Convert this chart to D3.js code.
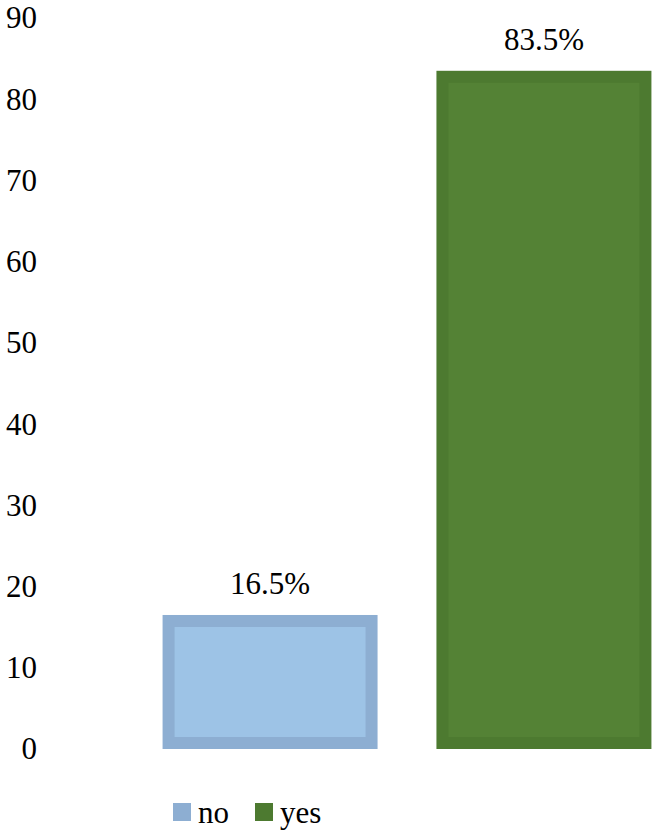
<!DOCTYPE html>
<html>
<head>
<meta charset="utf-8">
<script src="https://cdn.jsdelivr.net/npm/d3@7"></script>
<style>
  html, body { margin: 0; padding: 0; background: #fff; }
  svg { display: block; }
</style>
</head>
<body>
<svg id="chart" width="657" height="835"></svg>
<script>
const categories = ["no", "yes"];
const values = [16.5, 83.5];
const valueLabels = ["16.5%", "83.5%"];
const tickValues = [0, 10, 20, 30, 40, 50, 60, 70, 80, 90];
const fillColors = ["#9dc3e6", "#548235"];
const strokeColors = ["#8daed2", "#4d7a30"];

const FONT = "Liberation Serif, Times New Roman, Tinos, Nimbus Roman, DejaVu Serif, serif";

const svg = d3.select("#chart");

const y = d3.scaleLinear().domain([0, 90]).range([749, 18]);
const x = d3.scaleBand().domain(categories).range([133, 681]).paddingInner(0.215).paddingOuter(0.108);

const yAxis = d3.axisLeft(y).tickValues(tickValues).tickSize(0).tickPadding(0).tickFormat(d3.format("d"));
const gy = svg.append("g").attr("transform", "translate(37,0)").call(yAxis);
gy.attr("font-family", FONT).attr("font-size", 31);
gy.select(".domain").remove();
gy.selectAll("text").attr("fill", "#000");

const sw = 12;
svg.append("g").selectAll("rect")
  .data(values)
  .join("rect")
  .attr("x", (d, i) => x(categories[i]) + sw / 2)
  .attr("y", d => y(d) + sw / 2)
  .attr("width", x.bandwidth() - sw)
  .attr("height", d => y(0) - y(d) - sw)
  .attr("fill", (d, i) => fillColors[i])
  .attr("stroke", (d, i) => strokeColors[i])
  .attr("stroke-width", sw);

svg.append("g").attr("font-family", FONT).attr("font-size", 31)
  .selectAll("text")
  .data(values)
  .join("text")
  .attr("x", (d, i) => x(categories[i]) + x.bandwidth() / 2)
  .attr("y", d => y(d) - 21)
  .attr("text-anchor", "middle")
  .text((d, i) => valueLabels[i]);

const legend = svg.append("g").attr("font-family", FONT).attr("font-size", 31);
const legendX = [173, 255];
categories.forEach((c, i) => {
  legend.append("rect")
    .attr("x", legendX[i]).attr("y", 803)
    .attr("width", 18).attr("height", 18)
    .attr("fill", strokeColors[i]);
  legend.append("text")
    .attr("x", legendX[i] + 25).attr("y", 823)
    .text(c);
});
</script>
</body>
</html>
